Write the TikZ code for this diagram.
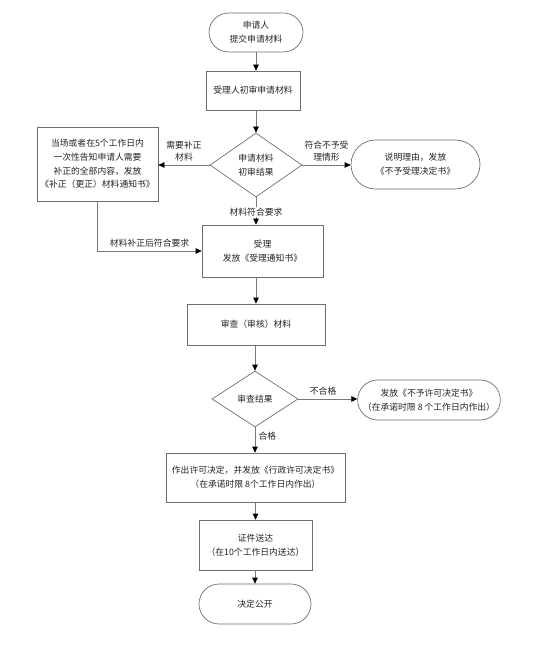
\documentclass[tikz,border=0pt]{standalone}
\usepackage{fontspec}
\setmainfont{Noto Sans CJK SC}
\usetikzlibrary{arrows.meta, shapes.geometric, shapes.misc}
\definecolor{edgeC}{RGB}{110,110,110}
\definecolor{lineC}{RGB}{120,120,120}
\definecolor{txtC} {RGB}{ 35, 35, 35}
\tikzset{
  base/.style = {draw=edgeC, line width=0.7pt, text=txtC, align=center,
                 font=\fontsize{8.8}{13.8}\selectfont, inner sep=2pt},
  box/.style  = {base, rectangle},
  term/.style = {base, rounded rectangle},
  dec/.style  = {base, diamond, inner sep=0pt},
  flow/.style = {-{Triangle[length=6pt, width=5.5pt, color=black]},
                 draw=lineC, line width=0.7pt},
  lbl/.style  = {font=\fontsize{8.8}{12.5}\selectfont, text=txtC, align=center},
}

\begin{document}
\begin{tikzpicture}[x=1pt, y=-1pt]

% ---- Frame (pixel grid of the page, y downwards) ----------------------------
\useasboundingbox (0,0) rectangle (535,663);

% ---- Main column ------------------------------------------------------------
\node[term, minimum width=98pt, minimum height=39pt] (start) at (256,32.5)
  {申请人\\提交申请材料};
\node[box, minimum width=94pt, minimum height=39pt] (check) at (253,90.5)
  {受理人初审申请材料};
\node[dec, minimum width=92pt, minimum height=64pt] (d1) at (256,165)
  {申请材料\\初审结果};
\node[box, minimum width=121pt, minimum height=52pt] (accept) at (262.5,251)
  {受理\\发放《受理通知书》};
\node[box, minimum width=138pt, minimum height=41pt] (review) at (256,324.5)
  {审查（审核）材料};
\node[dec, minimum width=86pt, minimum height=56pt] (d2) at (255,399)
  {审查结果};
\node[box, minimum width=179pt, minimum height=49pt] (permit) at (255.5,477.5)
  {作出许可决定，并发放《行政许可决定书》\\（在承诺时限 8个工作日内作出）};
\node[box, minimum width=113pt, minimum height=50pt] (deliver) at (255.5,545)
  {证件送达\\（在10个工作日内送达）};
\node[term, minimum width=116pt, minimum height=40pt] (finish) at (255,604)
  {决定公开};

% ---- Side branches ----------------------------------------------------------
\node[box, minimum width=121pt, minimum height=74pt] (fix) at (97.5,164)
  {当场或者在5个工作日内\\一次性告知申请人需要\\补正的全部内容，发放\\《补正（更正）材料通知书》};
\node[term, minimum width=133pt, minimum height=49pt] (refuse) at (415.5,164.5)
  {说明理由，发放\\《不予受理决定书》};
\node[term, minimum width=142pt, minimum height=40pt] (deny) at (429,400)
  {发放《不予许可决定书》\\（在承诺时限 8 个工作日内作出）};

% ---- Connectors -------------------------------------------------------------
\draw[flow] (start.south) -- (start.south |- check.north);
\draw[flow] (check.south -| d1.north) -- (d1.north);
\draw[flow] (d1.west) -- (d1.west -| fix.east)
  node[lbl, above, midway] {需要补正\\材料};
\draw[flow] (d1.east) -- (d1.east -| refuse.west)
  node[lbl, above, midway] {符合不予受\\理情形};
\draw[flow] (d1.south) -- (d1.south |- accept.north)
  node[lbl, fill=white, inner sep=1pt, pos=0.54] {材料符合要求};
\draw[flow] (fix.south) |- (accept.west)
  node[lbl, above, pos=0.75] {材料补正后符合要求};
\draw[flow] (accept.south -| review.north) -- (review.north);
\draw[flow] (review.south -| d2.north) -- (d2.north);
\draw[flow] (d2.east) -- (d2.east -| deny.west)
  node[lbl, above, pos=0.42] {不合格};
\draw[flow] (d2.south) -- (d2.south |- permit.north)
  node[lbl, right, pos=0.35] {合格};
\draw[flow] (permit.south -| deliver.north) -- (deliver.north);
\draw[flow] (deliver.south -| finish.north) -- (finish.north);

\end{tikzpicture}
\end{document}
